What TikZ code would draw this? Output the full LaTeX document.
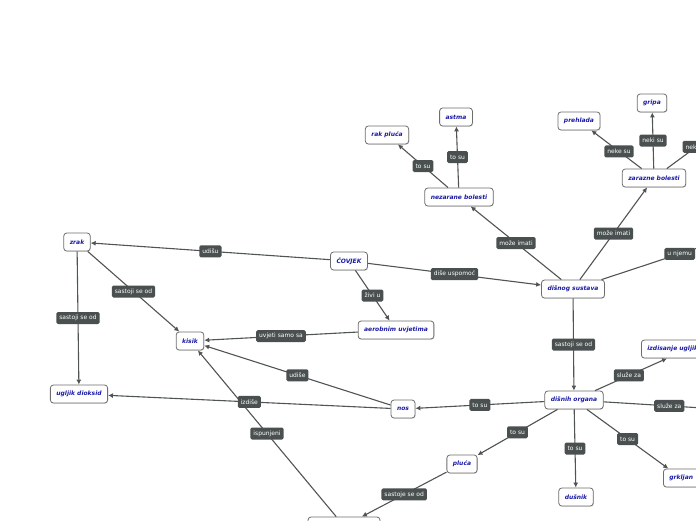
\documentclass[tikz,border=0pt]{standalone}
\usepackage{fontspec}
\setmainfont{DejaVu Sans}
\usepackage{tikz}
\usetikzlibrary{arrows.meta, shadows}
\definecolor{cmblue}{HTML}{1A1AA6}
\definecolor{cmgray}{HTML}{4A5050}
\definecolor{cmedge}{HTML}{505454}
\definecolor{cmborder}{HTML}{6E6E6E}

\begin{document}
\begin{tikzpicture}[x=1pt, y=-1pt,
  conbox/.style={rectangle, draw=cmborder, line width=0.8pt, fill=white, rounded corners=3pt,
    minimum height=18pt, inner xsep=6pt, font=\fontsize{6}{7}\selectfont\bfseries\itshape, text=cmblue,
    drop shadow={opacity=0.25, shadow xshift=0.6pt, shadow yshift=-0.8pt}},
  linkbox/.style={rectangle, fill=cmgray, rounded corners=1.5pt, minimum height=12pt,
    inner xsep=3pt, inner ysep=1pt, font=\fontsize{6}{7}\selectfont, text=white},
  conn/.style={draw=cmedge, line width=1.1pt, -{Latex[length=5pt,width=5pt]}},
  plain/.style={draw=cmedge, line width=1.1pt},
]
  \useasboundingbox (0,0) rectangle (696,520);
  \clip (0,0) rectangle (696,520);

  % concepts
  \node[conbox] (covjek) at (349,261) {ČOVJEK};
  \node[conbox] (zrak) at (77,242) {zrak};
  \node[conbox] (kisik) at (190,341) {kisik};
  \node[conbox] (ugljik) at (79,394) {ugljik dioksid};
  \node[conbox] (aerobni) at (396,330) {aerobnim uvjetima};
  \node[conbox] (nos) at (403,409) {nos};
  \node[conbox, minimum width=72pt] (mjehur) at (344,526) {};
  \node[conbox] (disnog) at (573,289) {dišnog sustava};
  \node[conbox] (nezarane) at (459,197) {nezarane bolesti};
  \node[conbox] (rakpluca) at (387,135) {rak pluća};
  \node[conbox] (astma) at (456,117) {astma};
  \node[conbox] (zarazne) at (654,178) {zarazne bolesti};
  \node[conbox] (prehlada) at (579,121) {prehlada};
  \node[conbox] (gripa) at (652,103) {gripa};
  \node[conbox] (disnih) at (574,400) {dišnih organa};
  \node[conbox, anchor=west] (izdis) at (641,349) {izdisanje ugljik dioksida};
  \node[conbox] (pluca) at (462,464) {pluća};
  \node[conbox] (dusnik) at (576,497) {dušnik};
  \node[conbox, anchor=west] (grkljan) at (663,478) {grkljan};

  % targets beyond the frame
  \coordinate (njemu) at (758,228);
  \coordinate (nekizar) at (726,125);
  \coordinate (sluze) at (735,410);

  % links
  \draw[conn] (covjek) -- node[linkbox] {udišu} (zrak);
  \draw[conn] (zrak) -- node[linkbox] {sastoji se od} (kisik);
  \draw[conn] (zrak) -- node[linkbox] {sastoji se od} (ugljik);
  \draw[conn] (covjek) -- node[linkbox] {diše uspomoć} (disnog);
  \draw[conn] (covjek) -- node[linkbox] {živi u} (aerobni);
  \draw[conn] (aerobni) -- node[linkbox] {uvjeti samo sa} (kisik);
  \draw[conn] (nos) -- node[linkbox] {udiše} (kisik);
  \draw[conn] (mjehur) -- node[linkbox, pos=0.5] {ispunjeni} (kisik);
  \draw[conn] (nos) -- node[linkbox] {izdiše} (ugljik);
  \draw[conn] (disnih) -- node[linkbox] {to su} (nos);
  \draw[conn] (disnog) -- node[linkbox] {sastoji se od} (disnih);
  \draw[conn] (disnog) -- node[linkbox] {može imati} (nezarane);
  \draw[conn] (disnog) -- node[linkbox] {može imati} (zarazne);
  \draw[plain] (disnog) -- node[linkbox] {u njemu} (njemu);
  \draw[conn] (nezarane) -- node[linkbox] {to su} (rakpluca);
  \draw[conn] (nezarane) -- node[linkbox] {to su} (astma);
  \draw[conn] (zarazne) -- node[linkbox, pos=0.45] {neke su} (prehlada);
  \draw[conn] (zarazne) -- node[linkbox] {neki su} (gripa);
  \draw[plain] (zarazne) -- node[linkbox] {neki su} (nekizar);
  \draw[conn] (disnih) -- node[linkbox, pos=0.47] {služe za} (izdis);
  \draw[plain] (disnih) -- node[linkbox] {služe za} (sluze);
  \draw[conn] (disnih) -- node[linkbox] {to su} (pluca);
  \draw[conn] (disnih) -- node[linkbox] {to su} (dusnik);
  \draw[conn] (disnih) -- node[linkbox] {to su} (grkljan);
  \draw[conn] (pluca) -- node[linkbox] {sastoje se od} (mjehur);
\end{tikzpicture}
\end{document}
